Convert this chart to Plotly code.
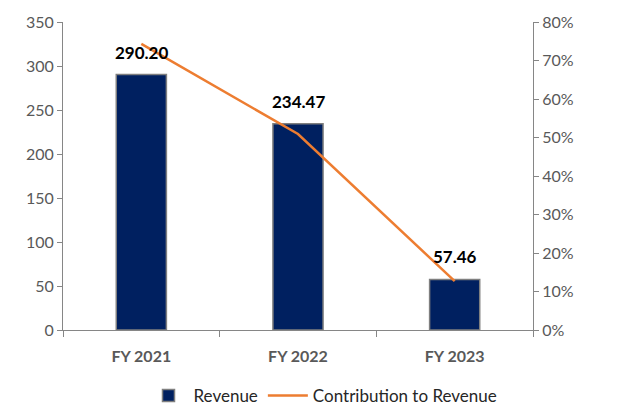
import plotly.graph_objects as go
from plotly.subplots import make_subplots

# Daten
jahre = ["FY 2021", "FY 2022", "FY 2023"]
umsatz = [290.20, 234.47, 57.46]
anteil = [0.743, 0.509, 0.127]  # Contribution to Revenue

fig = make_subplots(specs=[[{"secondary_y": True}]])

fig.add_trace(go.Bar(
    x=jahre, y=umsatz, name="Revenue",
    marker=dict(color="#002060", line=dict(color="#7f7f7f", width=1.5)),
    width=0.32,
), secondary_y=False)

fig.add_trace(go.Scatter(
    x=jahre, y=anteil, name="Contribution to Revenue", mode="lines",
    line=dict(color="#ED7D31", width=2.5),
), secondary_y=True)

# Datenbeschriftungen über den Balken
for j, v in zip(jahre, umsatz):
    fig.add_annotation(x=j, y=v, text=f"<b>{v:.2f}</b>", showarrow=False,
                       yanchor="bottom", yshift=10,
                       font=dict(family="Lato", size=17, color="black"))

achse = dict(showline=True, linecolor="#868686", linewidth=1, ticks="outside",
             ticklen=5, tickcolor="#868686", showgrid=False, zeroline=False,
             automargin=False,
             tickfont=dict(family="Lato", size=16, color="#595959"))

fig.update_yaxes(range=[0, 350], dtick=50, **achse, secondary_y=False)
fig.update_yaxes(range=[0, 0.8], dtick=0.1, tickformat=".0%", **achse, secondary_y=True)
fig.update_xaxes(showline=True, linecolor="#868686", ticks="outside", tickson="boundaries",
                 ticklen=6, tickcolor="#868686", automargin=False, ticklabelstandoff=12,
                 tickfont=dict(family="Lato", size=16, color="#595959"),
                 tickprefix="<b>", ticksuffix="</b>")

# Seite hat 8px Rand -> Figur etwas kleiner
fig.update_layout(
    width=611, height=399,
    margin=dict(l=55, r=56, t=14, b=77, autoexpand=False),
    plot_bgcolor="white", paper_bgcolor="white",
    showlegend=True,
    legend=dict(orientation="h", x=0.52, xanchor="center", y=-0.214, yanchor="middle",
                entrywidthmode="pixels", itemwidth=40,
                font=dict(family="Lato", size=17, color="#262626")),
)

fig.write_html("out.html")
